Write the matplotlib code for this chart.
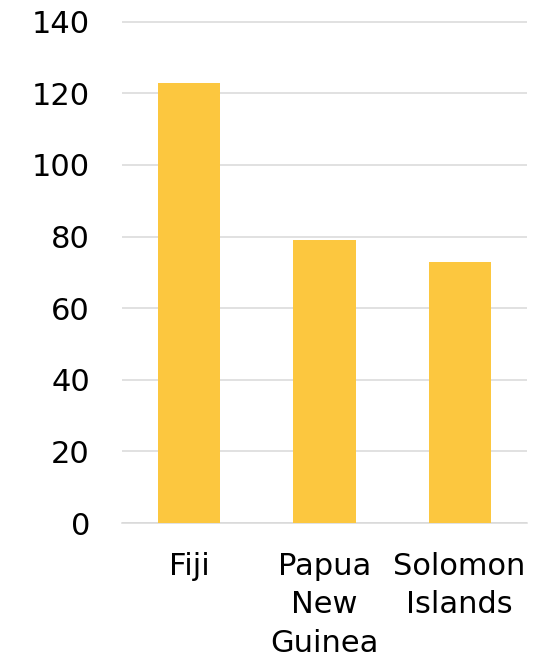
import matplotlib.pyplot as plt

countries = ['Fiji', 'Papua\nNew\nGuinea', 'Solomon\nIslands']
values = [123, 79, 73]
yticks = [0, 20, 40, 60, 80, 100, 120, 140]

plt.rcParams['font.family'] = 'DejaVu Sans'

fig = plt.figure(figsize=(5.44, 6.63), dpi=100)
ax = fig.add_axes([0.224, 0.211, 0.745, 0.758])

ax.bar(range(len(countries)), values, width=0.46, color='#FCC73F', zorder=3)

ax.set_xlim(-0.5, 2.5)
ax.set_ylim(0, 140.3)
ax.set_yticks(yticks)
ax.set_xticks(range(len(countries)))
ax.set_xticklabels(countries, linespacing=1.4)

ax.yaxis.grid(True, color='#d9d9d9', linewidth=1.1, zorder=0)
for s in ['top', 'right', 'left']:
    ax.spines[s].set_visible(False)
ax.spines['bottom'].set_color('#d9d9d9')
ax.spines['bottom'].set_linewidth(1.1)

ax.tick_params(axis='both', length=0, labelsize=22, labelcolor='black')
ax.tick_params(axis='y', pad=23)
ax.tick_params(axis='x', pad=21)

fig.savefig('out.png', dpi=100)
